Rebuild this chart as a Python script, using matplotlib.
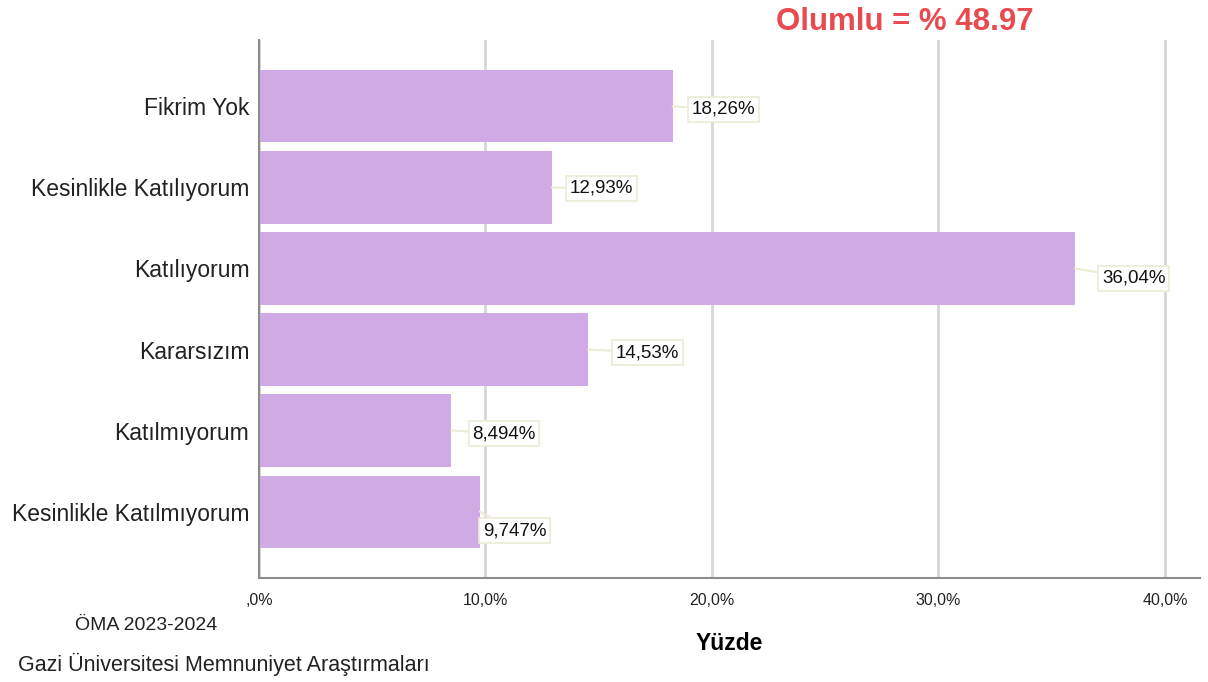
import matplotlib.pyplot as plt

plt.rcParams['font.family'] = ['Liberation Sans', 'DejaVu Sans']

# data (top to bottom as shown)
categories = ["Fikrim Yok", "Kesinlikle Katılıyorum", "Katılıyorum",
              "Kararsızım", "Katılmıyorum", "Kesinlikle Katılmıyorum"]
percents = [18.26, 12.93, 36.04, 14.53, 8.494, 9.747]
value_labels = ["18,26%", "12,93%", "36,04%", "14,53%", "8,494%", "9,747%"]
xticks = [0, 10, 20, 30, 40]
xtick_labels = [",0%", "10,0%", "20,0%", "30,0%", "40,0%"]

# label placement (offset in px from bar end: dx, dy)
label_offsets = [(19, -3), (18, -1), (27, -10), (28, -3), (21, -3), (3, -19)]

fig = plt.figure(figsize=(12.08, 6.82), dpi=100)
ax = fig.add_axes([259 / 1208, 1 - 578 / 682, (1200 - 259) / 1208, (578 - 40) / 682])

ypos = list(range(len(categories)))
ax.barh(ypos, percents, height=0.89, color="#d0aae5", zorder=2)
ax.set_ylim(5.82, -0.82)
ax.set_xlim(0, 41.55)

ax.set_yticks(ypos)
ax.set_yticklabels(categories, fontsize=16.5, color="#222222")
ax.set_xticks(xticks)
ax.set_xticklabels(xtick_labels, fontsize=11.5, color="#222222")
ax.tick_params(axis="both", length=0)
ax.tick_params(axis="x", pad=11)
ax.tick_params(axis="y", pad=7)

ax.grid(axis="x", color="#d6d6d6", linewidth=2, zorder=0)
for s in ["top", "right"]:
    ax.spines[s].set_visible(False)
for s in ["left", "bottom"]:
    ax.spines[s].set_color("#8c8c8c")
    ax.spines[s].set_linewidth(1.5)
    ax.spines[s].set_zorder(3)

for y, v, lab, (dx, dy) in zip(ypos, percents, value_labels, label_offsets):
    ax.annotate(lab, xy=(v, y), xytext=(dx * 0.72, dy * 0.72),
                textcoords="offset points", ha="left", va="center",
                fontsize=13.5, color="#111111", zorder=4,
                bbox=dict(boxstyle="square,pad=0.2", fc="white", ec="#ecebd6", lw=1.2),
                arrowprops=dict(arrowstyle="-", color="#ecebd6", lw=1.5,
                                shrinkA=0, shrinkB=0))

ax.set_xlabel("Yüzde", fontsize=16.5, fontweight="bold", labelpad=17)

fig.text(905 / 1208, 1 - 22 / 682, "Olumlu = % 48.97", fontsize=22.5, fontweight="bold",
         color="#e84a4f", ha="center", va="center")
fig.text(75 / 1208, 1 - 626 / 682, "ÖMA 2023-2024", fontsize=14, color="#222222",
         ha="left", va="center")
fig.text(18 / 1208, 1 - 664 / 682, "Gazi Üniversitesi Memnuniyet Araştırmaları",
         fontsize=15.5, color="#222222", ha="left", va="center")

fig.savefig("out.png", dpi=100)
